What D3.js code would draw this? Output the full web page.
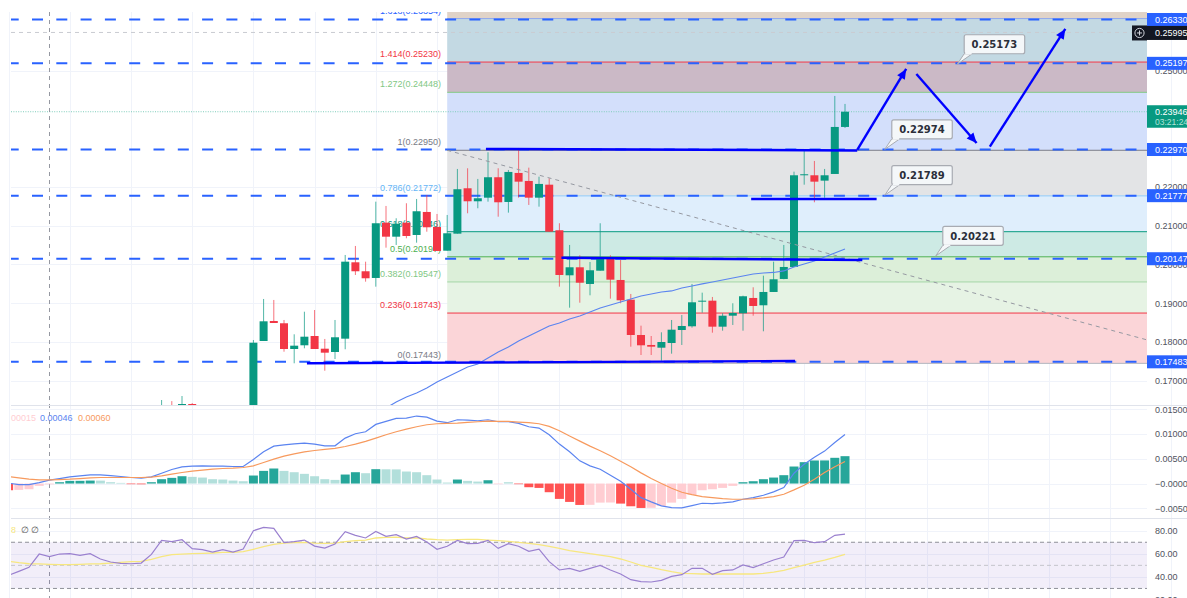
<!DOCTYPE html>
<html>
<head>
<meta charset="utf-8">
<script src="https://cdn.jsdelivr.net/npm/d3@7"></script>
<style>
  html, body { margin: 0; padding: 0; background: #fff; }
  svg { display: block; }
  text { font-family: "Liberation Sans", Arial, sans-serif; }
</style>
</head>
<body>
<div id="chart"></div>
<script>
// candles: [open, high, low, close], first one sits on bar 15
var candleStart = 15;
var ohlc = [
  [.15850,.16496,.15700,.16150],[.16100,.16467,.15900,.15950],[.15950,.16599,.15900,.16392],[.16392,.16418,.16000,.16100],
  [.16100,.16300,.15700,.15800],[.15800,.16200,.15600,.16000],[.16000,.16250,.15800,.15900],[.15900,.16300,.15750,.16100],
  [.16100,.16320,.15900,.15980],[.15979,.18047,.15720,.17977],[.18021,.19107,.18021,.18530],[.18538,.19081,.18486,.18486],
  [.18479,.18564,.17744,.17814],[.17814,.18194,.17445,.17900],[.17910,.18778,.17832,.18132],[.18150,.18822,.17814,.17814],
  [.17822,.18073,.17253,.17719],[.17737,.18564,.17556,.18117],[.18081,.20244,.17807,.20071],[.20055,.20477,.19727,.19823],
  [.19823,.20071,.19554,.19642],[.19650,.21622,.19425,.21064],[.21079,.21511,.20433,.20717],[.20717,.21193,.20503,.21053],
  [.21079,.21581,.20676,.20735],[.20761,.21692,.20562,.21374],[.21356,.21795,.20846,.20960],[.20968,.21304,.20348,.20348],
  [.20355,.21278,.20355,.20805],[.20795,.22467,.20795,.21943],[.21968,.22485,.21322,.21632],[.21632,.22209,.21451,.21710],
  [.21725,.22899,.21622,.22253],[.22253,.22485,.21234,.21606],[.21614,.22441,.21338,.22390],[.22364,.23010,.21725,.22139],
  [.22157,.22501,.21537,.21725],[.21725,.22268,.21493,.22080],[.22061,.22227,.20846,.20846],[.20883,.21064,.19425,.19727],
  [.19719,.20503,.18882,.19926],[.19926,.20236,.19011,.19528],[.19495,.20063,.19202,.19849],[.19838,.21064,.19838,.20159],
  [.20141,.20236,.19115,.19606],[.19598,.20115,.18996,.19073],[.19089,.19236,.17874,.18176],[.18176,.18417,.17659,.17910],
  [.17918,.18150,.17659,.17874],[.17848,.18246,.17512,.17995],[.17969,.18564,.17693,.18313],[.18305,.18693,.17918,.18409],
  [.18401,.19495,.18365,.19021],[.19037,.19270,.18753,.19063],[.19063,.19159,.18236,.18391],[.18391,.18737,.18287,.18675],
  [.18675,.18996,.18435,.18745],[.18737,.19192,.18287,.19177],[.19133,.19409,.18675,.18926],[.18944,.19709,.18272,.19288],
  [.19288,.20071,.19288,.19616],[.19624,.20503,.19616,.19934],[.19934,.22397,.19934,.22304],[.22304,.22959,.22061,.22330],
  [.22304,.22674,.21606,.22139],[.22165,.22467,.21725,.22304],[.22338,.24354,.22338,.23553],[.23553,.24148,.23527,.23946]
];

// blue moving average on the price pane, first value on bar 37
var maStart = 37;
var maValues = [.16289,.16444,.16573,.16677,.16806,.16961,.17090,.17220,.17349,.17427,.17582,.17737,.17866,.18021,.18150,
  .18280,.18409,.18486,.18590,.18667,.18771,.18874,.18952,.19029,.19107,.19184,.19236,.19288,.19314,.19391,.19443,.19495,
  .19546,.19598,.19650,.19701,.19753,.19779,.19792,.19831,.19934,.20012,.20089,.20192,.20296,.20399];

// fib retracement
var fibRatios = ["1.618", "1.414", "1.272", "1", "0.786", "0.618", "0.5", "0.382", "0.236", "0"];
var fibPrices = [.26354, .25230, .24448, .22950, .21772, .20846, .20197, .19547, .18743, .17443];
var fibLines = ["#8fa8ec", "#f23645", "#81c784", "#787b86", "#90caf9", "#089981", "#4caf50", "#a5d6a7", "#f23645", "#b2b5be"];
var fibText = ["#2962ff", "#f23645", "#81c784", "#787b86", "#64b5f6", "#089981", "#4caf50", "#81c784", "#f23645", "#787b86"];
var fibFills = ["#c3d9e3", "#cbb9c6", "#d3dffb", "#e3e4e6", "#dfeefc", "#cdeae4", "#dcefd9", "#e6f3e4", "#fbd5d8"];

// horizontal levels and price tags
var dashedLevels = [.26330, .25197, .22970, .21777, .20147, .17483];
var dashedLabels = ["0.26330", "0.25197", "0.22970", "0.21777", "0.20147", "0.17483"];

// hand drawn lines and arrows: [bar, price, bar, price]
var thickLines = [
  [29.25, .17445, 77.1, .17504],
  [54.2, .20174, 83.7, .20115],
  [72.8, .21692, 85.1, .21692],
  [46.8, .22984, 83.2, .22946]
];
var arrows = [
  [83.2, .22959, 88.0, .25052],
  [89.0, .24923, 94.9, .23139],
  [96.2, .23044, 103.6, .26086]
];
var fibTrend = [43, .22950, 111.6, .18050];

// callouts
var calloutBars = [93, 85.9, 85.9, 90.9];
var calloutPrices = [.25173, .22974, .21789, .20221];
var calloutLabels = ["0.25173", "0.22974", "0.21789", "0.20221"];

// MACD pane
var macdHist = [-.00135,-.00128,-.00115,-.00047,-.00015,.00027,.00054,.00055,.00060,.00059,.00027,.00013,-.00013,-.00015,.00027,
  .00088,.00115,.00148,.00135,.00121,.00088,.00081,.00060,.00047,.00162,.00256,.00304,.00256,.00229,.00196,.00148,.00088,.00074,
  .00182,.00229,.00209,.00290,.00288,.00286,.00243,.00229,.00169,.00081,.00020,.00081,.00054,.00040,.00067,-.00013,.00027,-.00013,
  -.00074,-.00088,-.00175,-.00310,-.00371,-.00432,-.00430,-.00385,-.00383,-.00405,-.00459,-.00493,-.00490,-.00452,-.00385,-.00310,
  -.00229,-.00135,-.00115,-.00088,-.00047,.00027,.00047,.00088,.00121,.00169,.00344,.00432,.00466,.00467,.00520,.00553];
var macdLine = [.00007,-.00020,-.00020,.00020,.00068,.00101,.00135,.00155,.00176,.00176,.00162,.00142,.00122,.00108,.00135,.00209,
  .00284,.00338,.00351,.00358,.00351,.00351,.00344,.00344,.00486,.00641,.00756,.00783,.00803,.00817,.00797,.00763,.00763,.00918,
  .01006,.01046,.01195,.01256,.01316,.01323,.01364,.01343,.01262,.01229,.01289,.01283,.01269,.01289,.01249,.01249,.01215,.01148,
  .01121,.00986,.00797,.00641,.00459,.00358,.00290,.00169,.00047,-.00115,-.00284,-.00371,-.00452,-.00486,-.00493,-.00446,-.00398,
  -.00405,-.00392,-.00371,-.00317,-.00284,-.00236,-.00169,-.00081,.00209,.00392,.00533,.00655,.00830,.00992];
var signalLine = [.00142,.00115,.00088,.00074,.00074,.00081,.00088,.00101,.00115,.00122,.00122,.00122,.00122,.00122,.00128,.00155,
  .00189,.00223,.00250,.00270,.00290,.00304,.00311,.00324,.00358,.00425,.00493,.00554,.00601,.00641,.00668,.00689,.00709,.00749,
  .00797,.00851,.00918,.00986,.01046,.01100,.01148,.01188,.01208,.01215,.01222,.01235,.01249,.01262,.01256,.01256,.01242,.01229,
  .01208,.01154,.01067,.00959,.00857,.00756,.00662,.00560,.00452,.00338,.00216,.00101,0,-.00095,-.00176,-.00223,-.00263,-.00284,
  -.00304,-.00317,-.00317,-.00311,-.00290,-.00263,-.00216,-.00128,-.00034,.00088,.00223,.00338,.00446];
// two bars the usual rising/falling colour rule gets wrong
var histOverride = { 48: "#ffcdd2", 49: "#b2dfdb" };

// RSI pane
var rsiLine = [41.3,44.8,48.3,59.8,57.5,59.8,60.1,58.7,60.1,55.5,52.9,51.7,51.4,52.0,59.5,71.6,70.5,72.2,64.4,63.6,61.5,63.6,61.5,
  64.1,80.0,82.9,82.0,69.6,70.5,71.9,66.7,65.0,68.5,79.1,76.0,73.7,79.4,75.1,76.6,72.8,75.1,70.2,63.9,66.5,71.6,68.8,69.0,71.6,
  64.7,68.8,66.5,62.1,64.1,53.2,46.0,47.4,44.8,47.4,50.0,46.0,42.5,37.6,35.9,35.6,37.0,40.5,41.9,47.4,47.4,42.2,45.4,46.0,50.3,
  48.0,51.4,54.6,57.2,71.4,71.6,69.6,70.5,76.0,77.1];
var rsiMa = [53.5,52.3,51.4,51.2,50.9,50.6,50.6,50.9,51.2,51.4,52.0,52.6,53.2,53.5,55.2,57.5,59.2,59.8,60.1,60.4,60.7,61.3,61.3,
  61.8,63.9,66.2,68.2,69.3,69.6,69.9,69.3,69.0,69.3,70.5,71.4,71.9,73.7,74.2,74.5,73.7,73.7,72.8,72.2,71.9,72.2,72.5,72.5,71.9,
  71.4,70.8,69.9,69.0,67.9,66.5,64.7,62.7,61.5,60.1,58.9,57.5,55.5,52.9,50.0,48.3,46.2,44.5,43.1,42.8,42.5,42.5,42.5,42.5,42.5,
  42.5,43.1,44.2,45.7,48.0,50.3,52.6,54.6,56.9,59.5];
var rsiBand = [70, 50, 30];

// axis ticks
var priceTicks = [.17, .18, .19, .20, .21, .22, .25];
var macdTicks = [.015, .01, .005, 0, -.005];
var macdTickLabels = ["0.01500", "0.01000", "0.00500", "\u22120.00000", "\u22120.00500"];
var rsiTicks = [80, 60, 40, 20];
var gridBars = [0, 6, 12, 18, 24, 30, 36, 42, 48, 54, 60, 66, 72, 78, 84, 90, 96, 102, 108, 114];

function drawChart() {
  // 1) Layout
  var w = 1187, h = 598;
  var left = 11, right = 1147, top = 12;
  var priceBottom = 405.5, macdBottom = 518.5;

  var svg = d3.select("#chart").append("svg").attr("width", w).attr("height", h);

  // 2) Scales, all panes share the bar scale
  var x = d3.scaleLinear().domain([0, 82]).range([8.6, 845]);
  var y = d3.scaleLinear().domain([.17, .2633]).range([380.5, 19.5]);
  var yMacd = d3.scaleLinear().domain([-.005, .015]).range([508.3, 409.3]);
  var yRsi = d3.scaleLinear().domain([40, 80]).range([576.9, 530.7]);

  // 3) Clips for the panes
  var defs = svg.append("defs");
  function addClip(id, y0, y1) {
    defs.append("clipPath").attr("id", id).append("rect")
      .attr("x", left).attr("y", y0).attr("width", right - left).attr("height", y1 - y0);
  }
  addClip("clipPrice", top, priceBottom);
  addClip("clipMacd", priceBottom, macdBottom);
  addClip("clipRsi", macdBottom, h);

  var grid = svg.append("g").attr("stroke", "#f0f3fa").attr("stroke-width", 1);
  var price = svg.append("g").attr("clip-path", "url(#clipPrice)");

  // 4) Grid
  grid.selectAll("line.v").data(gridBars).enter().append("line")
    .attr("x1", function (d) { return Math.round(x(d)) + .5; })
    .attr("x2", function (d) { return Math.round(x(d)) + .5; })
    .attr("y1", top).attr("y2", h);

  function hGrid(values, scale) {
    grid.selectAll(null).data(values).enter().append("line")
      .attr("x1", left).attr("x2", right)
      .attr("y1", function (d) { return Math.round(scale(d)) + .5; })
      .attr("y2", function (d) { return Math.round(scale(d)) + .5; });
  }
  hGrid(priceTicks, y);
  hGrid(macdTicks, yMacd);
  hGrid(rsiTicks.slice(0, 3), yRsi);

  // 5) Fib bands, labels, level lines
  var fibX0 = x(43);
  price.append("rect").attr("x", fibX0).attr("y", top).attr("width", right - fibX0)
    .attr("height", y(fibPrices[0]) - top).attr("fill", "#e0d3c8");

  price.selectAll("rect.band").data(fibFills).enter().append("rect")
    .attr("class", "band").attr("x", fibX0).attr("width", right - fibX0)
    .attr("y", function (d, i) { return y(fibPrices[i]); })
    .attr("height", function (d, i) { return y(fibPrices[i + 1]) - y(fibPrices[i]); })
    .attr("fill", function (d) { return d; });

  price.selectAll("line.fib").data(fibPrices).enter().append("line")
    .attr("x1", fibX0).attr("x2", right)
    .attr("y1", function (d) { return y(d); }).attr("y2", function (d) { return y(d); })
    .attr("stroke", function (d, i) { return fibLines[i]; }).attr("stroke-width", 1);

  price.selectAll("text.fib").data(fibPrices).enter().append("text")
    .attr("x", 441).attr("y", function (d) { return y(d) - 5; })
    .attr("text-anchor", "end").attr("font-size", 9)
    .attr("fill", function (d, i) { return fibText[i]; })
    .text(function (d, i) { return fibRatios[i] + "(" + d.toFixed(5) + ")"; });

  // 6) Crosshair and last price lines
  svg.append("line").attr("x1", 49.5).attr("x2", 49.5).attr("y1", top).attr("y2", h)
    .attr("stroke", "#9598a1").attr("stroke-dasharray", "4 4");
  price.append("line").attr("x1", left).attr("x2", right).attr("y1", y(.25995)).attr("y2", y(.25995))
    .attr("stroke", "#c9cbd1").attr("stroke-dasharray", "4 4");
  price.append("line").attr("x1", left).attr("x2", right).attr("y1", y(.23946)).attr("y2", y(.23946))
    .attr("stroke", "#7fcdbb").attr("stroke-dasharray", "1 1.4");

  // 7) Blue dashed levels
  price.selectAll("line.level").data(dashedLevels).enter().append("line")
    .attr("x1", left).attr("x2", right)
    .attr("y1", function (d) { return y(d); }).attr("y2", function (d) { return y(d); })
    .attr("stroke", "#2962ff").attr("stroke-width", 2)
    .attr("stroke-dasharray", "11 13.3").attr("stroke-dashoffset", 3.3);

  // 8) Candles
  var candles = price.selectAll("g.candle").data(ohlc).enter().append("g")
    .attr("fill", function (d) { return d[3] >= d[0] ? "#089981" : "#f23645"; })
    .attr("stroke", function (d) { return d[3] >= d[0] ? "#089981" : "#f23645"; });

  candles.append("line")
    .attr("x1", function (d, i) { return x(i + candleStart); })
    .attr("x2", function (d, i) { return x(i + candleStart); })
    .attr("y1", function (d) { return y(d[1]); })
    .attr("y2", function (d) { return y(d[2]); })
    .attr("stroke-opacity", .7);

  candles.append("rect")
    .attr("x", function (d, i) { return x(i + candleStart) - 4; })
    .attr("width", 8)
    .attr("y", function (d) { return y(Math.max(d[0], d[3])); })
    .attr("height", function (d) { return Math.max(1, Math.abs(y(d[0]) - y(d[3]))); })
    .attr("stroke", "none");

  // 9) Moving average and the fib trend line
  price.append("path").datum(maValues)
    .attr("fill", "none").attr("stroke", "#5b84f0").attr("stroke-width", 1.2)
    .attr("d", d3.line().x(function (d, i) { return x(i + maStart); }).y(function (d) { return y(d); }));

  price.append("line")
    .attr("x1", x(fibTrend[0])).attr("y1", y(fibTrend[1]))
    .attr("x2", x(fibTrend[2])).attr("y2", y(fibTrend[3]))
    .attr("stroke", "#9598a1").attr("stroke-dasharray", "4 4");

  // 10) Thick hand drawn lines and arrows
  price.selectAll("line.thick").data(thickLines.concat(arrows)).enter().append("line")
    .attr("x1", function (d) { return x(d[0]); }).attr("y1", function (d) { return y(d[1]); })
    .attr("x2", function (d) { return x(d[2]); }).attr("y2", function (d) { return y(d[3]); })
    .attr("stroke", "#0000ff").attr("stroke-width", 2.4);

  price.selectAll("path.head").data(arrows).enter().append("path")
    .attr("fill", "#0000ff")
    .attr("d", "M0,0L-10,-4.5L-10,4.5Z")
    .attr("transform", function (d) {
      var a = Math.atan2(y(d[3]) - y(d[1]), x(d[2]) - x(d[0])) * 180 / Math.PI;
      return "translate(" + x(d[2]) + "," + y(d[3]) + ") rotate(" + a + ")";
    });

  // 11) Callouts
  var callouts = price.selectAll("g.callout").data(calloutPrices).enter().append("g")
    .attr("transform", function (d, i) { return "translate(" + x(calloutBars[i]) + "," + y(d) + ")"; });

  callouts.append("path")
    .attr("d", "M0,0L7,-10.5L15,-10.5Z")
    .attr("fill", "#f4f7f9").attr("stroke", "#a8abb2").attr("stroke-width", 1);
  callouts.append("rect")
    .attr("x", 7).attr("y", -29.5).attr("width", 60.5).attr("height", 19).attr("rx", 2)
    .attr("fill", "#f4f7f9").attr("stroke", "#a8abb2").attr("stroke-width", 1.2);
  callouts.append("path").attr("d", "M8,-10.5L14.5,-10.5").attr("stroke", "#f4f7f9").attr("stroke-width", 1.6);
  callouts.append("text")
    .attr("x", 37.2).attr("y", -16.3).attr("text-anchor", "middle")
    .attr("font-size", 10).attr("font-weight", 700).attr("fill", "#2a2e39")
    .style("font-family", "'DejaVu Sans', sans-serif")
    .text(function (d, i) { return calloutLabels[i]; });

  // 12) MACD pane
  var macd = svg.append("g").attr("clip-path", "url(#clipMacd)");

  macd.selectAll("rect").data(macdHist).enter().append("rect")
    .attr("x", function (d, i) { return x(i) - 4.5; })
    .attr("width", 9)
    .attr("y", function (d) { return yMacd(Math.max(d, 0)); })
    .attr("height", function (d) { return Math.abs(yMacd(d) - yMacd(0)); })
    .attr("fill", function (d, i) {
      if (histOverride[i]) return histOverride[i];
      var rising = i > 0 && d > macdHist[i - 1];
      if (d >= 0) return rising ? "#26a69a" : "#b2dfdb";
      return i === 0 || !rising ? "#ff5252" : "#ffcdd2";
    });

  function paneLine(g, values, scale, color, width) {
    g.append("path").datum(values)
      .attr("fill", "none").attr("stroke", color).attr("stroke-width", width)
      .attr("d", d3.line().x(function (d, i) { return x(i); }).y(function (d) { return scale(d); }));
  }
  paneLine(macd, macdLine, yMacd, "#5b84f0", 1.2);
  paneLine(macd, signalLine, yMacd, "#f79a5e", 1.2);

  // 13) RSI pane
  var rsi = svg.append("g").attr("clip-path", "url(#clipRsi)");

  rsi.append("rect").attr("x", left).attr("width", right - left)
    .attr("y", yRsi(rsiBand[0])).attr("height", yRsi(rsiBand[2]) - yRsi(rsiBand[0]))
    .attr("fill", "#7e57c2").attr("fill-opacity", .1);

  rsi.selectAll("line").data(rsiBand).enter().append("line")
    .attr("x1", left).attr("x2", right)
    .attr("y1", function (d) { return yRsi(d); }).attr("y2", function (d) { return yRsi(d); })
    .attr("stroke", function (d) { return d === 50 ? "#c4c5cc" : "#8f9098"; })
    .attr("stroke-dasharray", "4 3");

  paneLine(rsi, rsiMa, yRsi, "#f7e77f", 1.3);
  paneLine(rsi, rsiLine, yRsi, "#9a80cf", 1.2);

  // 14) Legends
  function legend(px, py, str, color) {
    svg.append("text").attr("x", px).attr("y", py).attr("font-size", 9).attr("fill", color).text(str);
  }
  legend(11, 421, "00015", "#ffcdd2");
  legend(40, 421, "0.00046", "#5b84f0");
  legend(78, 421, "0.00060", "#f79a5e");
  legend(11, 533, "8", "#f7e77f");
  legend(20.5, 533, "\u2205", "#555");
  legend(31, 533, "\u2205", "#555");

  // 15) Pane separators
  svg.selectAll("line.sep").data([priceBottom, macdBottom]).enter().append("line")
    .attr("x1", left).attr("x2", w)
    .attr("y1", function (d) { return d; }).attr("y2", function (d) { return d; })
    .attr("stroke", "#e0e3eb");

  // 16) Right hand axes
  function rightAxis(scale, ticks, format) {
    var g = svg.append("g").attr("transform", "translate(" + right + ",0)")
      .call(d3.axisRight(scale).tickValues(ticks).tickFormat(format).tickSize(0).tickPadding(8));
    g.select(".domain").remove();
    g.selectAll("text").attr("font-size", 9).attr("fill", "#50535e")
      .style("font-family", "'Liberation Sans', sans-serif");
  }
  rightAxis(y, priceTicks, d3.format(".5f"));
  rightAxis(yMacd, macdTicks, function (d, i) { return macdTickLabels[i]; });
  rightAxis(yRsi, rsiTicks, d3.format(".2f"));

  // 17) Price tags
  function tag(value, label, fill, tagHeight) {
    var tagY = y(value) - 6.5;
    svg.append("rect").attr("x", right).attr("y", tagY).attr("width", w - right).attr("height", tagHeight).attr("fill", fill);
    svg.append("text").attr("x", 1155).attr("y", tagY + 9.6)
      .attr("font-size", 9).attr("fill", "#fff").text(label);
  }
  dashedLevels.forEach(function (d, i) { tag(d, dashedLabels[i], "#2962ff", 13); });
  tag(.25995, "0.25995", "#131722", 14);
  tag(.23946, "0.23946", "#089981", 22.5);
  svg.append("text").attr("x", 1155).attr("y", y(.23946) + 13.5)
    .attr("font-size", 8.5).attr("fill", "#b5e2d6").text("03:21:24");

  // plus button beside the crosshair price
  var plusY = y(.25995) + .5;
  svg.append("rect").attr("x", 1132).attr("y", plusY - 7.5).attr("width", 15).attr("height", 15).attr("fill", "#131722");
  svg.append("circle").attr("cx", 1139.5).attr("cy", plusY).attr("r", 4.6).attr("fill", "none").attr("stroke", "#d1d4dc");
  svg.append("path").attr("d", "M1137,0H1142M1139.5,-2.5V2.5").attr("transform", "translate(0," + plusY + ")")
    .attr("stroke", "#d1d4dc").attr("fill", "none");
}

drawChart();
</script>
</body>
</html>
